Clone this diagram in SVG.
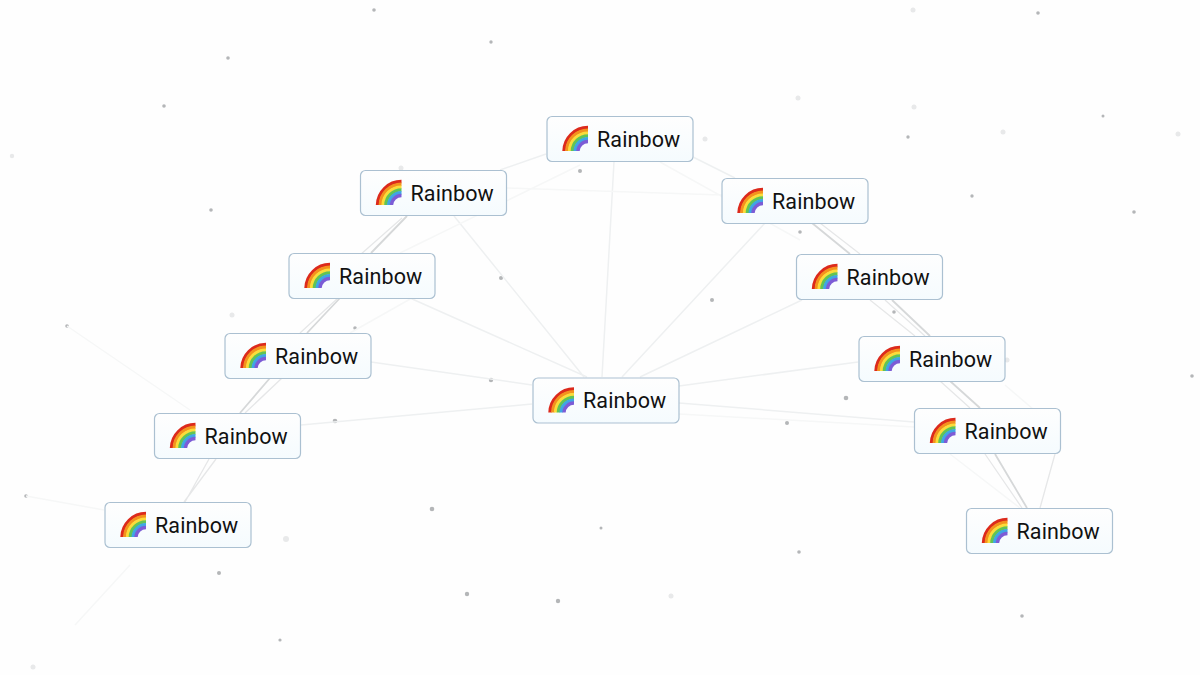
<svg xmlns="http://www.w3.org/2000/svg" xmlns:xlink="http://www.w3.org/1999/xlink" width="1200" height="675" viewBox="0 0 1200 675">
<style>
.box{fill:url(#nf);stroke:#abc0d1;stroke-width:1.2}
.lb{font-family:Roboto,"Liberation Sans",sans-serif;font-size:21.500px;fill:#111;letter-spacing:.12px}
.c1{stroke:#eef0f1;stroke-width:1.500;fill:none}
.c2{stroke:#f6f7f7;stroke-width:1.500;fill:none}
.c3{stroke:#d6d8d9;stroke-width:1.800;fill:none}
.c4{stroke:#e6e7e8;stroke-width:1.300;fill:none}
.d1{fill:#b4b6b8}.d2{fill:#e8e9ea}
</style>
<defs>
<linearGradient id="nf" x1="0" y1="0" x2="0" y2="1"><stop offset="0" stop-color="#fefefe"/><stop offset="1" stop-color="#f5fbfe"/></linearGradient>
<g id="rb" fill="none" stroke-width="3.400">
<path d="M17.500 35A24 24 0 0 1 41.500 11.500" stroke="#dc2a1c"/>
<path d="M20.300 35A21.200 21.200 0 0 1 41.500 14.300" stroke="#f4921e"/>
<path d="M23.100 35A18.400 18.400 0 0 1 41.500 17.100" stroke="#fbdc3a"/>
<path d="M25.900 35A15.600 15.600 0 0 1 41.500 19.900" stroke="#62c454"/>
<path d="M28.700 35A12.800 12.800 0 0 1 41.500 22.700" stroke="#3fa6e4"/>
<path d="M31.500 35A10 10 0 0 1 41.500 25.500" stroke="#7c5cd6"/>
</g>
<g id="nd"><rect class="box" x=".5" y=".5" width="146" height="45" rx="5"/><use xlink:href="#rb" href="#rb"/><text class="lb" x="50.500" y="30.500">Rainbow</text></g>
</defs>
<rect width="1200" height="675" fill="#fefefe"/>
<g id="dots">
<circle class="d1" cx="374" cy="10" r="1.800"/><circle class="d1" cx="491" cy="42" r="1.700"/><circle class="d1" cx="228" cy="58" r="1.800"/><circle class="d1" cx="164" cy="106" r="1.800"/><circle class="d2" cx="12" cy="156" r="2.200"/><circle class="d1" cx="211" cy="210" r="1.800"/><circle class="d1" cx="67" cy="326" r="1.800"/><circle class="d2" cx="232" cy="315" r="2.500"/><circle class="d1" cx="355" cy="328" r="1.800"/><circle class="d2" cx="401" cy="168" r="2.500"/><circle class="d1" cx="580" cy="171" r="2"/><circle class="d2" cx="705" cy="139" r="2.500"/><circle class="d2" cx="798" cy="98" r="2.500"/><circle class="d2" cx="913" cy="10" r="2.500"/><circle class="d1" cx="1038" cy="13" r="1.800"/><circle class="d2" cx="914" cy="107" r="2.500"/><circle class="d1" cx="908" cy="137" r="1.700"/><circle class="d2" cx="1003" cy="132" r="2.500"/><circle class="d1" cx="1103" cy="116" r="1.500"/><circle class="d2" cx="1178" cy="134" r="2.500"/><circle class="d1" cx="972" cy="196" r="1.700"/><circle class="d1" cx="1134" cy="212" r="1.800"/><circle class="d1" cx="800" cy="232" r="1.800"/><circle class="d1" cx="501" cy="278" r="2"/><circle class="d1" cx="712" cy="300" r="2"/><circle class="d1" cx="894" cy="312" r="1.800"/><circle class="d1" cx="1192" cy="376" r="1.800"/><circle class="d2" cx="1007" cy="360" r="2.500"/><circle class="d1" cx="846" cy="398" r="2.300"/><circle class="d1" cx="787" cy="423" r="2"/><circle class="d1" cx="491" cy="380" r="2.200"/><circle class="d1" cx="335" cy="421" r="2.300"/><circle class="d1" cx="26" cy="496" r="1.800"/><circle class="d1" cx="432" cy="509" r="2.300"/><circle class="d1" cx="601" cy="528" r="1.500"/><circle class="d1" cx="799" cy="552" r="1.800"/><circle class="d2" cx="286" cy="539" r="3"/><circle class="d1" cx="219" cy="573" r="2"/><circle class="d1" cx="467" cy="594" r="2.200"/><circle class="d1" cx="558" cy="601" r="2.200"/><circle class="d2" cx="671" cy="596" r="2.500"/><circle class="d1" cx="1022" cy="616" r="1.800"/><circle class="d1" cx="280" cy="640" r="1.600"/><circle class="d2" cx="33" cy="667" r="2.500"/>
</g>
<g id="connectors">
<path class="c1" d="M584 377L454 216M602 377L614 162M622 377L765 223M640 377L802 300M587 377L410 298M532 385L371 362M532 404L301 425M679 386L858 362M679 403L914 422M500 170L546 154M693 157L735 178"/>
<path class="c2" d="M507 188L722 195M400 253L580 165M660 162L800 240M350 333L435 285M26 496L104 510M67 326L190 410M130 565L75 625M1005 385L1040 415M679 414L914 427M950 454L1020 508"/>
<path class="c3" d="M407 216L371 253M307 333L340 298M270 378L240 413M812 223L850 254M892 300L930 336M950 381L980 408M995 454L1027 508"/>
<path class="c4" d="M402 218L360 255M338 298L300 333M282 378L245 413M209 459L185 502M216 459L184 502M820 223L860 254M885 300L925 336M940 381L970 408M985 454L1022 508M1055 454L1040 508M870 300L915 336"/>
</g>
<use id="node-top" xlink:href="#nd" href="#nd" x="546.500" y="116"/>
<use id="node-l1" xlink:href="#nd" href="#nd" x="360" y="170"/>
<use id="node-l2" xlink:href="#nd" href="#nd" x="288.500" y="253"/>
<use id="node-l3" xlink:href="#nd" href="#nd" x="224.500" y="333"/>
<use id="node-l4" xlink:href="#nd" href="#nd" x="154" y="413"/>
<use id="node-l5" xlink:href="#nd" href="#nd" x="104.500" y="502"/>
<use id="node-c" xlink:href="#nd" href="#nd" x="532.500" y="377.500"/>
<use id="node-r1" xlink:href="#nd" href="#nd" x="721.500" y="178"/>
<use id="node-r2" xlink:href="#nd" href="#nd" x="796" y="254"/>
<use id="node-r3" xlink:href="#nd" href="#nd" x="858.500" y="336"/>
<use id="node-r4" xlink:href="#nd" href="#nd" x="914" y="408"/>
<use id="node-r5" xlink:href="#nd" href="#nd" x="966" y="508"/>
</svg>
